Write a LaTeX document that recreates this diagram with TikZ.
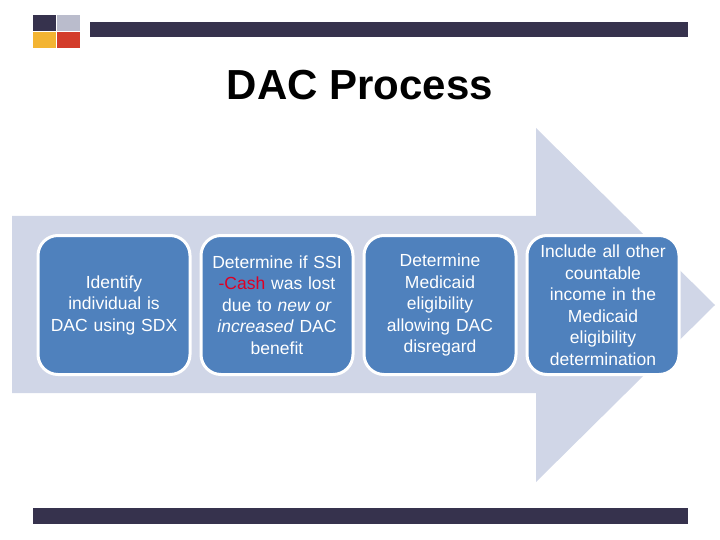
\documentclass[tikz,border=0pt]{standalone}
\usepackage{fontspec}
\setmainfont{Liberation Sans}
\usetikzlibrary{positioning}
\definecolor{bardark}{RGB}{54,50,77}
\definecolor{logogrey}{RGB}{186,188,204}
\definecolor{logoyellow}{RGB}{243,180,50}
\definecolor{logored}{RGB}{211,60,42}
\definecolor{arrowgrey}{RGB}{208,214,231}
\definecolor{stepblue}{RGB}{79,129,189}
\definecolor{cashred}{RGB}{222,0,36}

\begin{document}
\begin{tikzpicture}[x=1pt, y=-1pt,
        stepbox/.style={draw=white, line width=3pt, rounded corners=20pt, fill=stepblue, minimum width=152pt, minimum height=139pt, text width=148pt, align=center, inner sep=2pt, text=white, font=\fontsize{17.5}{21.5}\selectfont},
        bar/.style={fill=bardark}
    ]
    \useasboundingbox (0,0) rectangle (720,540);
    % Logo and bars
    \fill[bardark] (33,15) rectangle (56,31);
    \fill[logogrey] (57,15) rectangle (80,31);
    \fill[logoyellow] (33,32) rectangle (56,48);
    \fill[logored] (57,32) rectangle (80,48);
    \fill[bar] (90,22) rectangle (688,37);
    \fill[bar] (33,508) rectangle (688,524);
    % Title
    \node[font=\fontsize{42}{48}\selectfont\bfseries] (title) at (360,85) {DAC Process};
    % Big arrow
    \fill[arrowgrey] (12,216) -- (536,216) -- (536,128) -- (715,305) -- (536,482) -- (536,393) -- (12,393) -- cycle;
    % Steps
    \node[stepbox] (identify) at (114,305) {Identify\\individual is\\DAC using SDX};
    \node[stepbox, right=8pt of identify] (ssi) {Determine if SSI\\\textcolor{cashred}{-Cash} was lost\\due to \textit{new or}\\\textit{increased} DAC\\benefit};
    \node[stepbox, right=8pt of ssi] (medicaid) {Determine\\Medicaid\\eligibility\\allowing DAC\\disregard};
    \node[stepbox, right=8pt of medicaid] (income) {Include all other\\countable\\income in the\\Medicaid\\eligibility\\determination};
\end{tikzpicture}
\end{document}
